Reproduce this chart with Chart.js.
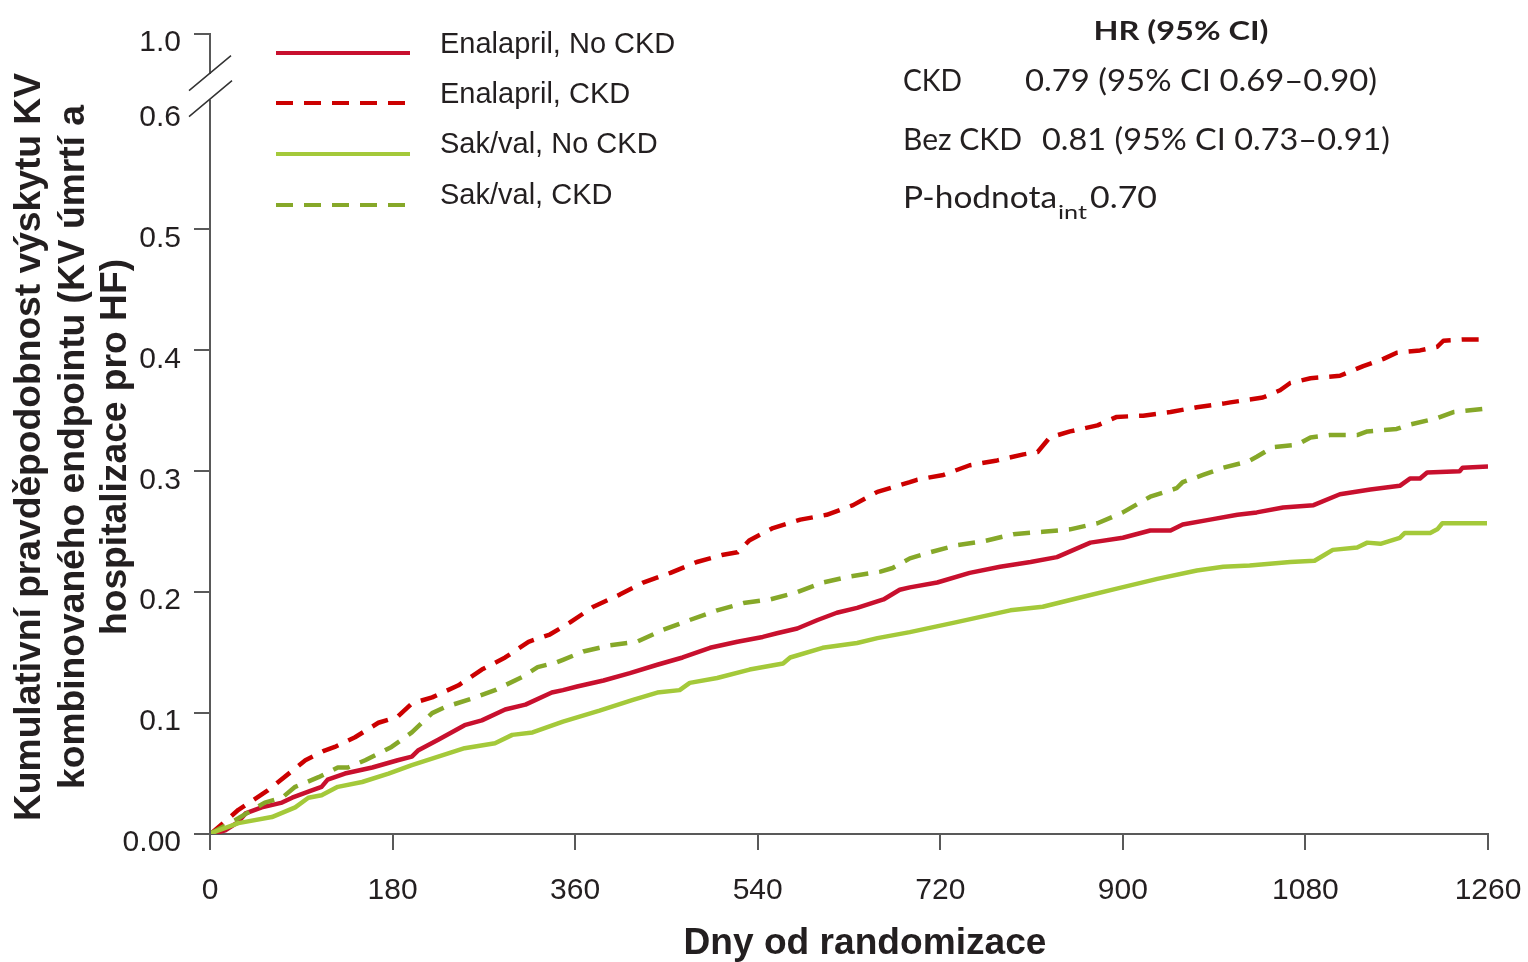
<!DOCTYPE html>
<html><head><meta charset="utf-8">
<script src="https://cdn.jsdelivr.net/npm/chart.js@4/dist/chart.umd.min.js"></script>
<style>html,body{margin:0;padding:0;background:#fff;}canvas{display:block;}</style>
</head><body>
<canvas id="c" width="1528" height="962"></canvas>
<script>
// ---------- data ----------
const xTicks = [0, 180, 360, 540, 720, 900, 1080, 1260];
const yTickValues = [0, 0.1, 0.2, 0.3, 0.4, 0.5, 0.6];
const yTickLabels = ['0.00', '0.1', '0.2', '0.3', '0.4', '0.5', '0.6'];
const yBreakLabel = '1.0';
const seriesLabels = ['Enalapril, No CKD', 'Enalapril, CKD', 'Sak/val, No CKD', 'Sak/val, CKD'];

const enaNoCkdDays = [0,2,15,28,35,51,71,81,97,110,116,133,160,185,199,205,225,251,268,291,311,337,348,362,388,414,441,466,493,520,545,559,579,599,618,638,664,680,690,717,749,779,809,835,868,900,927,947,959,986,1013,1032,1058,1088,1114,1144,1173,1183,1193,1200,1232,1235,1260];
const enaNoCkdVals = [0,0,0.003,0.010,0.017,0.022,0.026,0.030,0.035,0.039,0.045,0.050,0.055,0.061,0.064,0.069,0.078,0.090,0.094,0.103,0.107,0.117,0.119,0.122,0.127,0.133,0.140,0.146,0.154,0.159,0.163,0.166,0.170,0.177,0.183,0.187,0.194,0.202,0.204,0.208,0.216,0.221,0.225,0.229,0.241,0.245,0.251,0.251,0.256,0.260,0.264,0.266,0.270,0.272,0.281,0.285,0.288,0.294,0.294,0.299,0.300,0.303,0.304];

const enaCkdDays = [0,2,28,57,94,113,123,143,166,185,199,219,245,268,291,314,335,355,378,404,427,454,480,506,520,532,555,582,608,634,658,690,697,723,749,776,802,816,828,848,875,894,920,947,973,999,1006,1038,1055,1065,1085,1114,1137,1157,1170,1193,1210,1216,1235,1252];
const enaCkdVals = [0,0.001,0.020,0.036,0.061,0.069,0.072,0.080,0.092,0.097,0.108,0.113,0.123,0.136,0.146,0.159,0.165,0.175,0.188,0.198,0.208,0.216,0.225,0.231,0.233,0.243,0.253,0.260,0.264,0.272,0.283,0.291,0.293,0.297,0.305,0.309,0.314,0.316,0.328,0.333,0.338,0.345,0.346,0.349,0.353,0.356,0.357,0.361,0.367,0.373,0.377,0.379,0.387,0.393,0.398,0.400,0.403,0.408,0.409,0.409];

const sakNoCkdDays = [0,2,28,61,84,97,110,126,150,176,199,225,251,281,298,318,348,384,417,441,463,473,500,532,565,572,604,638,658,690,735,789,821,855,894,934,973,999,1025,1065,1089,1099,1107,1131,1141,1154,1173,1178,1203,1210,1215,1259];
const sakNoCkdVals = [0,0.001,0.009,0.014,0.022,0.030,0.032,0.039,0.043,0.050,0.057,0.064,0.071,0.075,0.082,0.084,0.093,0.102,0.111,0.117,0.119,0.125,0.129,0.136,0.141,0.146,0.154,0.158,0.162,0.167,0.175,0.185,0.188,0.195,0.203,0.211,0.218,0.221,0.222,0.225,0.226,0.231,0.235,0.237,0.241,0.240,0.245,0.249,0.249,0.252,0.257,0.257];

const sakCkdDays = [0,2,28,54,71,84,107,126,136,153,179,199,219,232,258,281,308,323,342,348,368,394,421,447,473,500,526,552,579,604,631,661,673,690,710,737,762,792,821,848,875,900,927,953,959,979,999,1023,1032,1048,1072,1085,1104,1131,1141,1170,1180,1210,1226,1259];
const sakCkdVals = [0,0.001,0.013,0.026,0.030,0.039,0.047,0.055,0.055,0.061,0.072,0.084,0.100,0.105,0.112,0.119,0.130,0.138,0.142,0.144,0.151,0.156,0.159,0.169,0.177,0.185,0.191,0.194,0.200,0.208,0.213,0.217,0.220,0.228,0.233,0.239,0.242,0.248,0.250,0.252,0.257,0.266,0.279,0.286,0.291,0.297,0.303,0.308,0.312,0.320,0.322,0.328,0.330,0.330,0.333,0.335,0.338,0.344,0.349,0.352];

// value where the broken axis places its "1.0" tick
const Y_AXIS_TOP = 0.6617;

// ---------- styling ----------
const TEXT = '#231f20';
const AXIS = '#595959';
const SANS = "'Liberation Sans', Arial, sans-serif";
const HRFONT = "Lato, 'Open Sans', sans-serif";
const DASH = [17, 11];

function toPoints(days, vals) { return days.map((d, i) => ({ x: d, y: vals[i] })); }

function fitText(ctx, text, x, y, font, width, align) {
  ctx.save();
  ctx.font = font;
  const w = ctx.measureText(text).width;
  ctx.translate(x, y);
  ctx.scale(width / w, 1);
  ctx.textAlign = align || 'left';
  ctx.textBaseline = 'middle';
  ctx.fillStyle = TEXT;
  ctx.fillText(text, 0, 0);
  ctx.restore();
}

const decor = {
  id: 'decor',
  afterDraw(chart) {
    const ctx = chart.ctx;
    const ys = chart.scales.y;
    const ax = chart.chartArea.left;
    const y0 = ys.getPixelForValue(0);
    const y06 = ys.getPixelForValue(0.6);
    const yTop = ys.getPixelForValue(Y_AXIS_TOP);

    // broken y axis
    ctx.save();
    ctx.strokeStyle = AXIS; ctx.lineWidth = 2; ctx.lineCap = 'butt';
    ctx.beginPath();
    ctx.moveTo(ax, y0 + 1); ctx.lineTo(ax, y06 - 9);
    ctx.moveTo(ax, yTop - 1); ctx.lineTo(ax, yTop + 40);
    ctx.stroke();
    ctx.strokeStyle = '#333'; ctx.lineWidth = 1.5;
    ctx.beginPath();
    ctx.moveTo(ax - 21, y06 + 8); ctx.lineTo(ax + 22, y06 - 28);
    ctx.moveTo(ax - 21, y06 - 18); ctx.lineTo(ax + 21, y06 - 53);
    ctx.stroke();
    ctx.restore();

    // y title (3 lines, rotated, condensed bold)
    const yTitle = ['Kumulativní pravděpodobnost výskytu KV', 'kombinovaného endpointu (KV úmrtí a', 'hospitalizace pro HF)'];
    const yTitleX = [30, 74, 116];
    ctx.save();
    const tf = "bold 36px 'Liberation Sans Narrow', 'Liberation Sans', Arial, sans-serif";
    ctx.font = tf;
    const sx = 748 / ctx.measureText(yTitle[0]).width;
    yTitle.forEach((t, i) => {
      ctx.save();
      ctx.translate(yTitleX[i], 447);
      ctx.rotate(-Math.PI / 2);
      ctx.scale(sx, 1);
      ctx.font = tf; ctx.fillStyle = TEXT; ctx.textAlign = 'center'; ctx.textBaseline = 'middle';
      ctx.fillText(t, 0, 0);
      ctx.restore();
    });
    ctx.restore();

    // x title
    fitText(ctx, 'Dny od randomizace', 865, 944, 'bold 37px ' + SANS, 363, 'center');

    // legend, in the reference's order
    const lineY = [53, 103, 154, 205];
    const textY = [45, 95, 145, 196];
    seriesLabels.forEach((lab, i) => {
      const ds = chart.data.datasets.find(d => d.label === lab);
      const dashed = ds.borderDash && ds.borderDash.length;
      ctx.save();
      ctx.strokeStyle = ds.borderColor; ctx.lineWidth = 4;
      ctx.setLineDash(ds.borderDash || []);
      ctx.beginPath(); ctx.moveTo(276, lineY[i]); ctx.lineTo(dashed ? 405 : 410, lineY[i]); ctx.stroke();
      ctx.restore();
      ctx.save();
      ctx.font = '29px ' + SANS; ctx.fillStyle = TEXT; ctx.textBaseline = 'middle'; ctx.textAlign = 'left';
      ctx.fillText(lab, 440, textY[i]);
      ctx.restore();
    });

    // hazard ratio box
    fitText(ctx, 'HR (95% CI)', 1181, 31, 'bold 27px ' + HRFONT, 175, 'center');
    fitText(ctx, 'CKD', 903, 81, '31px ' + HRFONT, 59);
    fitText(ctx, '0.79 (95% CI 0.69–0.90)', 1025, 81, '31px ' + HRFONT, 352);
    fitText(ctx, 'Bez CKD', 903, 140, '31px ' + HRFONT, 119);
    fitText(ctx, '0.81 (95% CI 0.73–0.91)', 1042, 140, '31px ' + HRFONT, 348);
    fitText(ctx, 'P-hodnota', 903, 198, '31px ' + HRFONT, 154);
    fitText(ctx, 'int', 1058, 213, '20px ' + HRFONT, 29);
    fitText(ctx, '0.70', 1090, 198, '31px ' + HRFONT, 67);
  }
};

const base = { pointRadius: 0, borderWidth: 4.5, tension: 0, fill: false, borderCapStyle: 'butt', borderJoinStyle: 'round' };

new Chart(document.getElementById('c'), {
  type: 'line',
  data: {
    datasets: [
      Object.assign({ label: seriesLabels[2], data: toPoints(sakNoCkdDays, sakNoCkdVals), borderColor: '#a4c93a', borderDash: [] }, base),
      Object.assign({ label: seriesLabels[3], data: toPoints(sakCkdDays, sakCkdVals), borderColor: '#86a829', borderDash: DASH }, base),
      Object.assign({ label: seriesLabels[0], data: toPoints(enaNoCkdDays, enaNoCkdVals), borderColor: '#c8102e', borderDash: [] }, base),
      Object.assign({ label: seriesLabels[1], data: toPoints(enaCkdDays, enaCkdVals), borderColor: '#cc0000', borderDash: DASH }, base)
    ]
  },
  options: {
    responsive: false,
    animation: false,
    layout: { padding: { left: 0, top: 34, right: 40, bottom: 0 } },
    plugins: { legend: { display: false }, tooltip: { enabled: false } },
    scales: {
      x: {
        type: 'linear', min: 0, max: 1260,
        afterBuildTicks: s => { s.ticks = xTicks.map(v => ({ value: v })); },
        afterFit: s => { s.height = 128; s.paddingLeft = 0; s.paddingRight = 0; },
        grid: { drawOnChartArea: false, drawTicks: true, tickLength: 16, color: AXIS, lineWidth: 2 },
        border: { display: true, color: AXIS, width: 2 },
        ticks: { font: { family: SANS, size: 30 }, color: TEXT, padding: 23, maxRotation: 0, autoSkip: false,
                 callback: v => String(v) }
      },
      y: {
        type: 'linear', min: 0, max: Y_AXIS_TOP,
        afterBuildTicks: s => { s.ticks = yTickValues.concat([Y_AXIS_TOP]).map(v => ({ value: v })); },
        afterFit: s => { s.width = 210; s.paddingTop = 0; s.paddingBottom = 0; },
        grid: {
          drawOnChartArea: false, drawTicks: true, tickLength: 16, lineWidth: 2,
          color: c => (c.tick && Math.abs(c.tick.value - 0.6) < 1e-9) ? 'rgba(0,0,0,0)' : AXIS
        },
        border: { display: false },
        ticks: {
          font: { family: SANS, size: 30 }, color: TEXT, padding: 13, labelOffset: 9, autoSkip: false,
          callback: (v, i) => i < yTickLabels.length ? yTickLabels[i] : yBreakLabel
        }
      }
    }
  },
  plugins: [decor]
});
</script>
</body></html>
